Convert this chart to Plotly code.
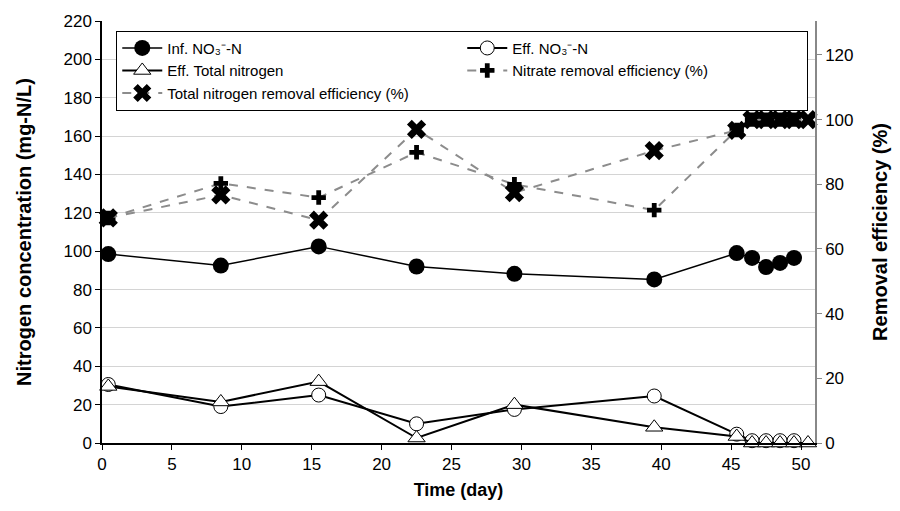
import plotly.graph_objects as go

# ---- data ----
days = [0.45, 8.5, 15.5, 22.5, 29.5, 39.5, 45.4, 46.5, 47.5, 48.5, 49.5]
days_tn = [0.45, 8.5, 15.5, 22.5, 29.5, 39.5, 45.4, 46.5, 47.5, 48.5, 49.5, 50.5]

inf_no3 = [98.5, 92.5, 102.5, 92.0, 88.2, 85.3, 99.0, 96.5, 91.7, 93.9, 96.5]
eff_no3 = [30.5, 19.0, 25.0, 10.0, 17.5, 24.5, 4.6, 1.2, 1.2, 1.2, 1.2]
eff_tn = [29.5, 21.4, 32.0, 2.6, 20.0, 8.2, 3.4, 0, 0, 0, 0, 0]

nitrate_rem = [69.6, 80.3, 75.9, 89.9, 80.0, 72.0, 96.8, 100, 100, 100, 100]
tn_rem = [69.6, 76.7, 68.9, 97.0, 77.4, 90.4, 96.7, 100, 100, 100, 100, 100]

x_ticks = [0, 5, 10, 15, 20, 25, 30, 35, 40, 45, 50]
y_ticks = [0, 20, 40, 60, 80, 100, 120, 140, 160, 180, 200, 220]
y2_ticks = [0, 20, 40, 60, 80, 100, 120]

FONT = "Liberation Sans, Arial, sans-serif"

fig = go.Figure()

fig.add_trace(go.Scatter(
    x=days, y=inf_no3, name="Inf. NO₃⁻-N",
    mode="lines+markers", cliponaxis=False,
    line=dict(color="black", width=1.5),
    marker=dict(symbol="circle", size=16, color="black"),
))
fig.add_trace(go.Scatter(
    x=days, y=eff_no3, name="Eff. NO₃⁻-N",
    mode="lines+markers", cliponaxis=False,
    line=dict(color="black", width=2),
    marker=dict(symbol="circle", size=14, color="white",
                line=dict(color="black", width=1)),
))
fig.add_trace(go.Scatter(
    x=days_tn, y=eff_tn, name="Eff. Total nitrogen",
    mode="lines+markers", cliponaxis=False,
    line=dict(color="black", width=2),
    marker=dict(symbol="triangle-up", size=15, color="white",
                line=dict(color="black", width=1)),
))
fig.add_trace(go.Scatter(
    x=days, y=nitrate_rem, name="Nitrate removal efficiency (%)",
    mode="lines+markers", yaxis="y2", cliponaxis=False,
    line=dict(color="#8c8c8c", width=2, dash="dash"),
    marker=dict(symbol="cross", size=12, color="black"),
))
fig.add_trace(go.Scatter(
    x=days_tn, y=tn_rem, name="Total nitrogen removal efficiency (%)",
    mode="lines+markers", yaxis="y2", cliponaxis=False,
    line=dict(color="#8c8c8c", width=2, dash="dash"),
    marker=dict(symbol="x", size=17, color="black"),
))

fig.update_layout(
    width=900, height=511,
    margin=dict(l=102, r=83, t=15, b=68),
    paper_bgcolor="white", plot_bgcolor="white",
    font=dict(family=FONT, size=17, color="black"),
    xaxis=dict(
        range=[0, 51], tickvals=x_ticks, ticktext=[str(v) for v in x_ticks],
        showgrid=False, zeroline=False,
        showline=True, linecolor="black", linewidth=1.5,
        ticks="outside", ticklen=5, tickcolor="black",
        title=dict(text="Time (day)", font=dict(size=18, weight="bold"), standoff=10),
    ),
    yaxis=dict(
        range=[0, 220], tickvals=y_ticks, ticktext=[str(v) for v in y_ticks],
        showgrid=True, gridcolor="#d4d4d4", gridwidth=1, zeroline=False,
        showline=True, linecolor="black", linewidth=1.5,
        ticks="outside", ticklen=5, tickcolor="black",
        title=dict(text="Nitrogen concentration (mg-N/L)", font=dict(size=20, weight="bold"), standoff=26),
    ),
    yaxis2=dict(
        range=[0, 130.5], tickvals=y2_ticks, ticktext=[str(v) for v in y2_ticks],
        overlaying="y", side="right", showgrid=False, zeroline=False,
        showline=True, linecolor="#888888", linewidth=1.5,
        ticks="outside", ticklen=5, tickcolor="#888888",
        title=dict(text="Removal efficiency (%)", font=dict(size=20, weight="bold"), standoff=20),
    ),
    legend=dict(
        orientation="h", x=0.02, y=0.977, xanchor="left", yanchor="top",
        bgcolor="white", bordercolor="black", borderwidth=1,
        font=dict(size=15), entrywidth=290, entrywidthmode="pixels",
        tracegroupgap=0, itemwidth=40,
    ),
    showlegend=True,
)

fig.write_html("out.html")
